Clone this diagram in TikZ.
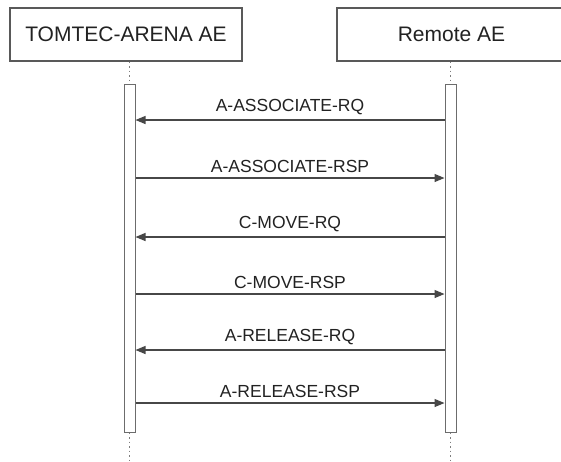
\documentclass[tikz,border=0pt]{standalone}
\usepackage{fontspec}
\setmainfont{Liberation Sans}
\usetikzlibrary{arrows.meta,calc}
\definecolor{ln}{HTML}{474747}
\definecolor{tx}{HTML}{222222}
\tikzset{
  actor/.style={draw=ln!90, line width=1.1pt, fill=white, minimum height=53pt, inner sep=0pt, text=tx, font=\fontsize{21}{24}\selectfont},
  bar/.style={draw=ln!80, line width=1pt, fill=white, minimum width=11pt, minimum height=348pt, inner sep=0pt},
  life/.style={draw=ln!70, line width=1.2pt, dash pattern=on 1.5pt off 3pt},
  msg/.style={draw=ln, line width=1.2pt, -{Triangle[length=10pt,width=8pt]}},
  lbl/.style={above=5pt, inner sep=0pt, text=tx, font=\fontsize{17.5}{20}\selectfont}
}
\begin{document}
\begin{tikzpicture}[x=1pt,y=-1pt]
\useasboundingbox (0,0) rectangle (561,461);
\clip (0,0) rectangle (561,461);
\fill[white] (0,0) rectangle (561,461);
\node[actor, minimum width=232pt] (boxL) at (126,34.5) {TOMTEC-ARENA AE};
\node[actor, minimum width=229pt] (boxR) at (451.5,34.5) {Remote AE};
\node[bar] (barL) at (129.5,258) {};
\node[bar] (barR) at (450.5,258) {};
\coordinate (endL) at (129.5,460);
\coordinate (endR) at (450.5,460);
\draw[life] (barL.north |- boxL.south) -- (barL.north);
\draw[life] (barR.north |- boxR.south) -- (barR.north);
\draw[life] (barL.south) -- (endL);
\draw[life] (barR.south) -- (endR);
\coordinate (m1) at (0,120);
\coordinate (m2) at (0,178);
\coordinate (m3) at (0,237);
\coordinate (m4) at (0,294);
\coordinate (m5) at (0,350);
\coordinate (m6) at (0,403);
\draw[msg] (barR.west |- m1) -- node[lbl]{A-ASSOCIATE-RQ} (barL.east |- m1);
\draw[msg] (barL.east |- m2) -- node[lbl]{A-ASSOCIATE-RSP} (barR.west |- m2);
\draw[msg] (barR.west |- m3) -- node[lbl]{C-MOVE-RQ} (barL.east |- m3);
\draw[msg] (barL.east |- m4) -- node[lbl]{C-MOVE-RSP} (barR.west |- m4);
\draw[msg] (barR.west |- m5) -- node[lbl]{A-RELEASE-RQ} (barL.east |- m5);
\draw[msg] (barL.east |- m6) -- node[lbl]{A-RELEASE-RSP} (barR.west |- m6);
\end{tikzpicture}
\end{document}
